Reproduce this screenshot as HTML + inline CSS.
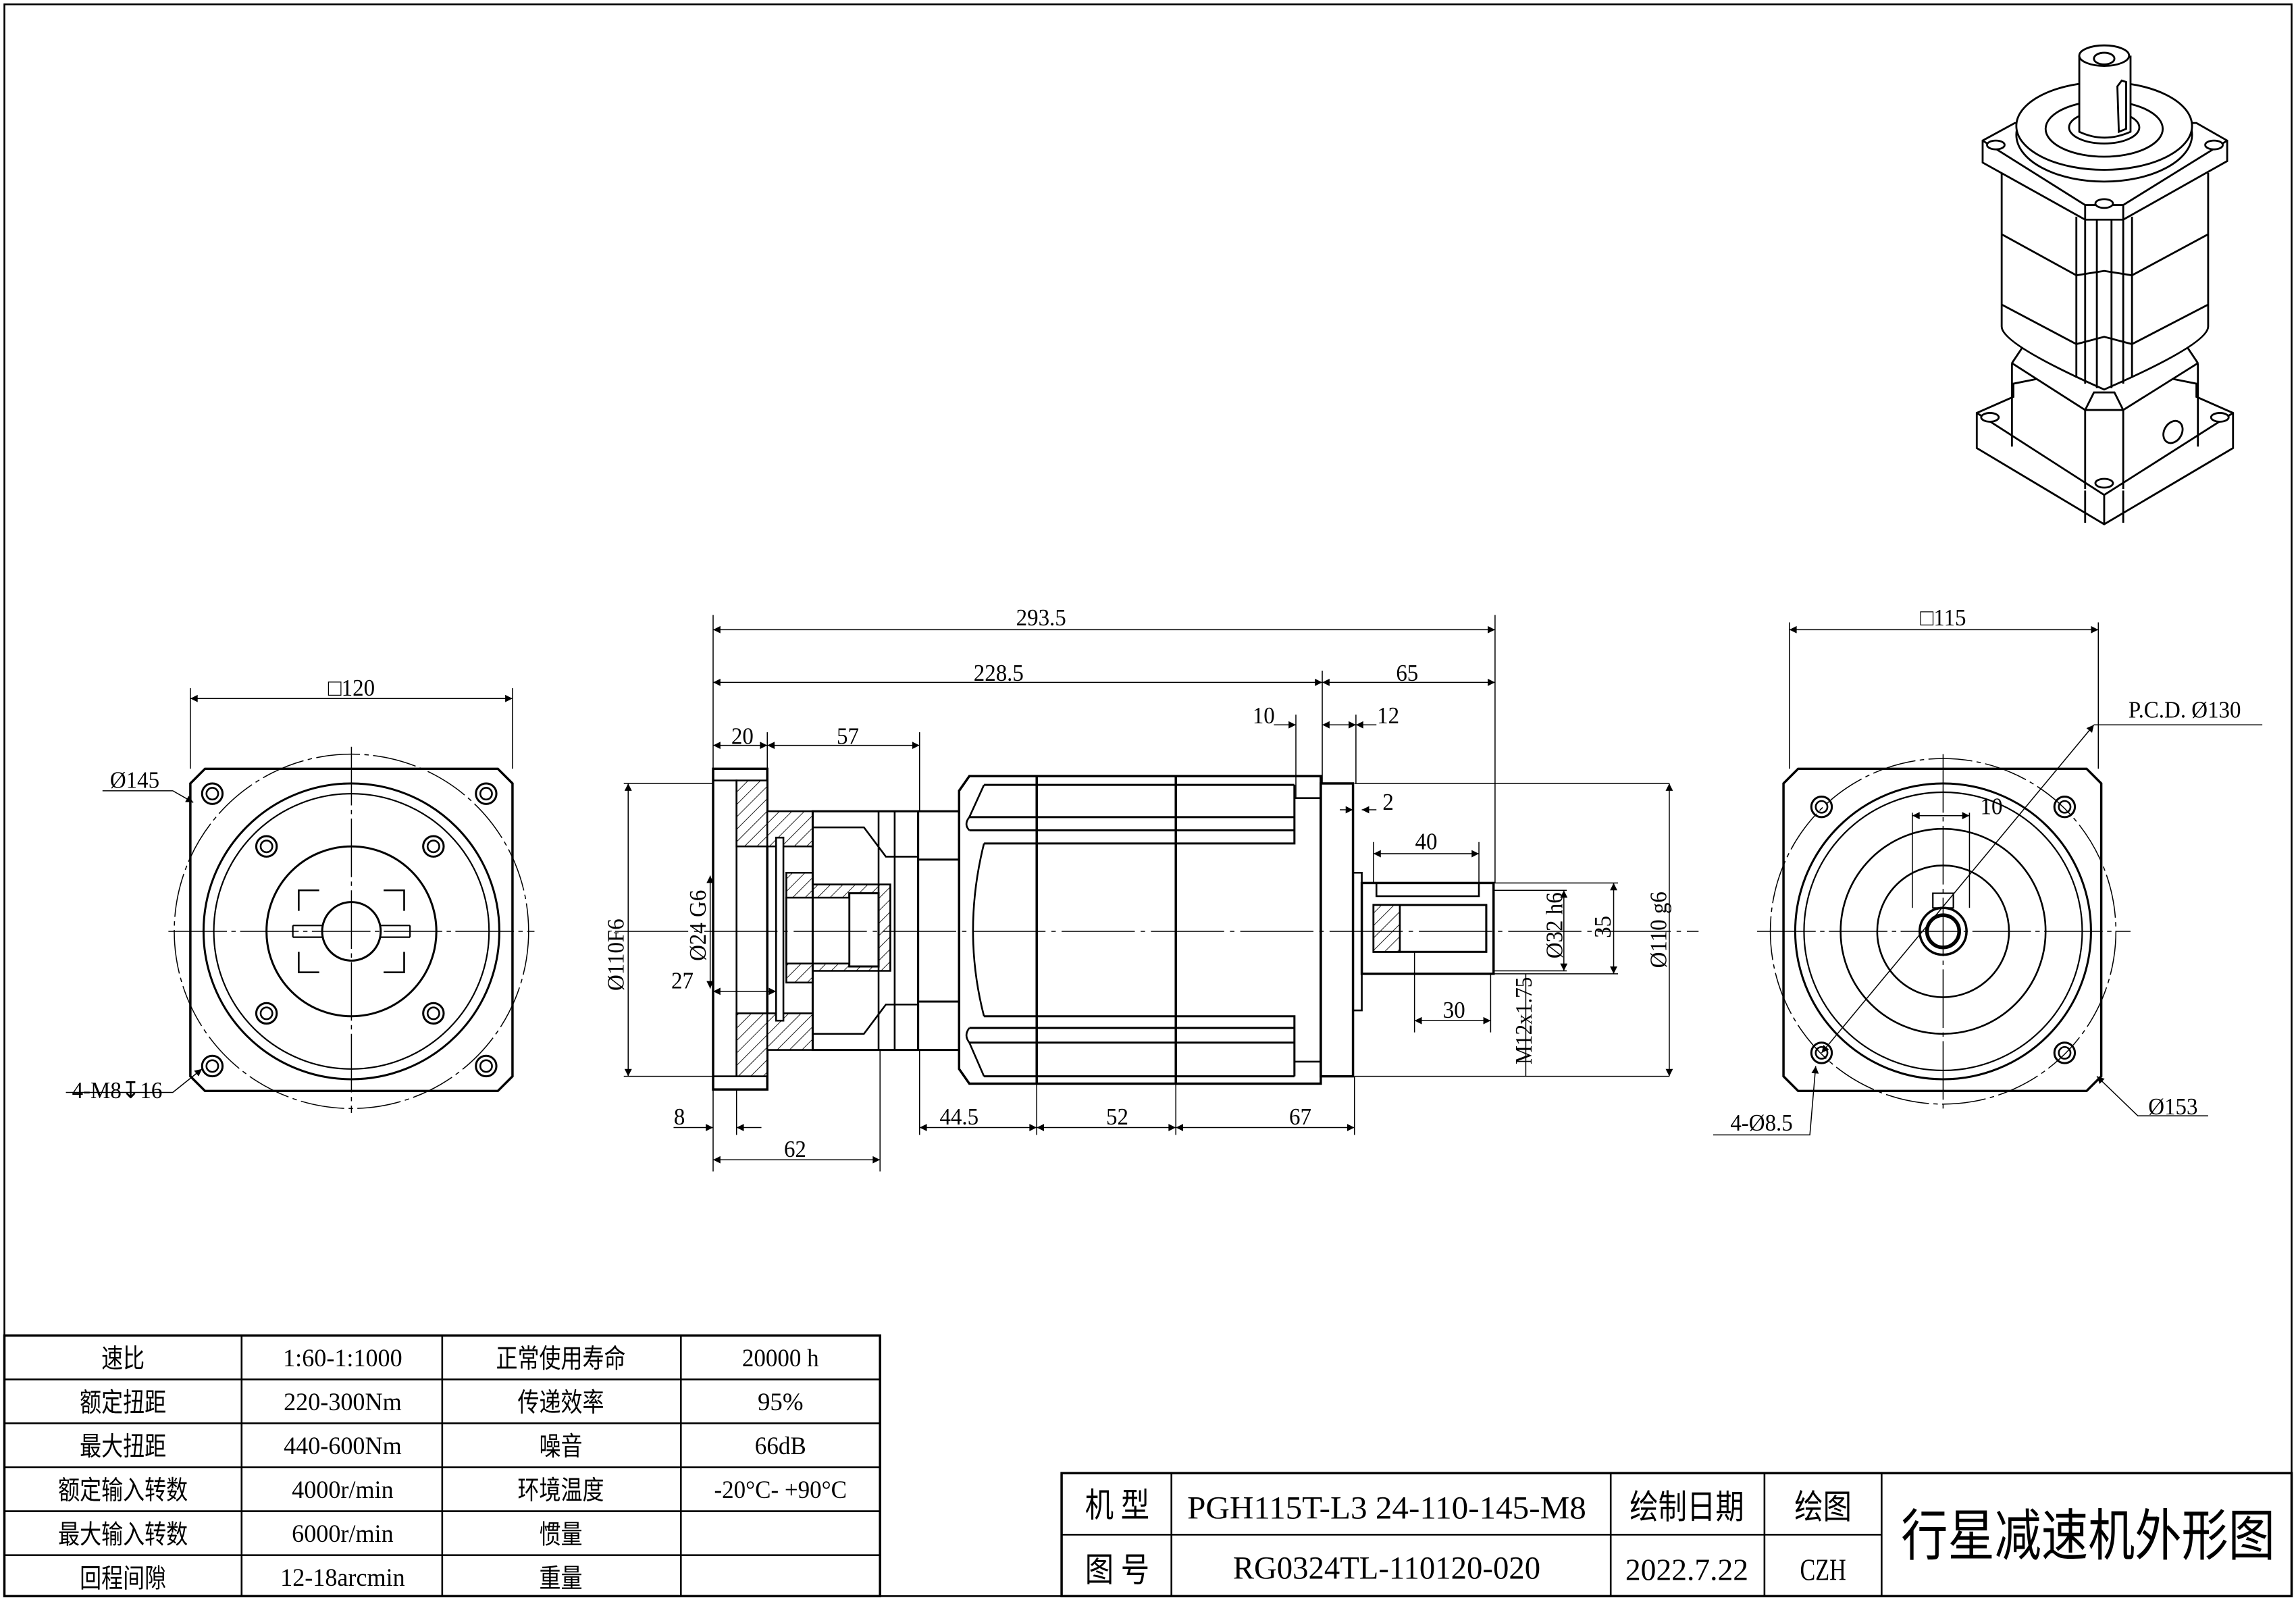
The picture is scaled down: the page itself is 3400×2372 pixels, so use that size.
<!DOCTYPE html>
<html><head><meta charset="utf-8">
<style>
html,body{margin:0;padding:0;background:#fff;}
svg{display:block;}
text{font-family:"Liberation Serif","Noto Sans CJK SC",serif;fill:#000;}
.c{font-family:"Liberation Sans","Noto Sans CJK SC",sans-serif;}
</style></head>
<body>
<svg width="3400" height="2372" viewBox="0 0 1568 1094" preserveAspectRatio="none" xmlns="http://www.w3.org/2000/svg">
<defs>
<pattern id="h" width="6" height="6" patternUnits="userSpaceOnUse" patternTransform="rotate(45)">
<rect width="6" height="6" fill="#fff"/><line x1="0" y1="0" x2="0" y2="6" stroke="#000" stroke-width="0.8"/></pattern>
<marker id="a" viewBox="0 0 10 10" refX="10" refY="5" markerWidth="8" markerHeight="5" orient="auto-start-reverse" markerUnits="userSpaceOnUse"><path d="M0,0 L10,5 L0,10z" fill="#000"/></marker>
</defs>
<g fill="none" stroke="#000" stroke-width="1.2">
<rect x="3" y="3" width="1562" height="1087"/>
<rect x="3" y="912" width="598" height="178" stroke-width="1.6"/>
<path d="M3 942H601M3 972H601M3 1002H601M3 1032H601M3 1062H601M165 912V1090M302 912V1090M465 912V1090"/>
<rect x="725" y="1006" width="840" height="84" stroke-width="1.6"/>
<path d="M725 1048H1285M800 1006V1090M1100 1006V1090M1205 1006V1090M1285 1006V1090"/>

<!-- LEFT VIEW -->
<path d="M140 525H340L350 535V735L340 745H140L130 735V535Z" stroke-width="1.6"/>
<circle cx="240" cy="636" r="121" stroke-width="0.7" stroke-dasharray="30 3 3 3"/>
<circle cx="240" cy="636" r="101" stroke-width="1.4"/>
<circle cx="240" cy="636" r="94" stroke-width="1"/>
<circle cx="240" cy="636" r="58" stroke-width="1.4"/>
<circle cx="240" cy="636" r="20" stroke-width="1.4"/>
<path d="M204 622V608H218M262 608H276V622M204 650V664H218M262 664H276V650" stroke-width="1.2"/>
<path d="M200 632H220M200 640H220M200 632V640M260 632H280M260 640H280M280 632V640" stroke-width="1"/>
<circle cx="145" cy="542" r="7" stroke-width="1.4"/><circle cx="145" cy="542" r="4"/>
<circle cx="332" cy="542" r="7" stroke-width="1.4"/><circle cx="332" cy="542" r="4"/>
<circle cx="145" cy="728" r="7" stroke-width="1.4"/><circle cx="145" cy="728" r="4"/>
<circle cx="332" cy="728" r="7" stroke-width="1.4"/><circle cx="332" cy="728" r="4"/>
<circle cx="182" cy="578" r="7" stroke-width="1.4"/><circle cx="182" cy="578" r="4"/>
<circle cx="296" cy="578" r="7" stroke-width="1.4"/><circle cx="296" cy="578" r="4"/>
<circle cx="182" cy="692" r="7" stroke-width="1.4"/><circle cx="182" cy="692" r="4"/>
<circle cx="296" cy="692" r="7" stroke-width="1.4"/><circle cx="296" cy="692" r="4"/>
<path d="M115 636H365M240 510V760" stroke-width="0.7" stroke-dasharray="40 3 3 3"/>
<path d="M130 525V470M350 525V470" stroke-width="0.7"/>
<path d="M130 477H350" stroke-width="0.7" marker-start="url(#a)" marker-end="url(#a)"/>
<path d="M70 540H118L132 548" stroke-width="0.7" marker-end="url(#a)"/>
<path d="M45 746H118L138 730" stroke-width="0.7" marker-end="url(#a)"/>

<!-- MIDDLE VIEW -->
<rect x="487" y="525" width="37" height="219" stroke-width="1.6"/>
<rect x="487" y="533" width="16" height="202" stroke-width="1.2"/>
<rect x="503" y="533" width="21" height="45" fill="url(#h)"/>
<rect x="503" y="692" width="21" height="43" fill="url(#h)"/>
<rect x="524" y="554" width="31" height="24" fill="url(#h)"/>
<rect x="524" y="692" width="31" height="25" fill="url(#h)"/>
<path d="M537 596H555V604H608V663H555V671H537Z" fill="url(#h)"/>
<rect x="580" y="610" width="20" height="50" fill="#fff" stroke-width="1.4"/>
<rect x="537" y="613" width="43" height="45" fill="#fff"/>
<rect x="530" y="572" width="5" height="125" fill="#fff"/>
<path d="M555 554H627V717H555Z" stroke-width="1.4"/>
<path d="M555 565H590L605 585H627M555 706H590L605 686H627M600 554V717M611 554V717" stroke-width="1.2"/>
<path d="M627 554V717M655 554V717M627 587H655M627 684H655" stroke-width="1.4"/>
<path d="M627 554H655M627 717H655" stroke-width="1.4"/>
<path d="M662 530H902V740H662L655 730V540Z" stroke-width="1.6"/>
<path d="M708 530V740M803 530V740" stroke-width="1.6"/>
<path d="M672 536H884M662 558H884M662 567H884M672 576H884V536M672 694H884V735M662 702H884M662 712H884M672 735H884" stroke-width="1.4"/>
<path d="M672 536L662 558Q658 563 662 567M672 576Q657 636 672 694M662 702Q658 707 662 712L672 735" stroke-width="1.2"/>
<path d="M884 545H902M884 725H902" stroke-width="1.2"/>
<rect x="902" y="535" width="22" height="200" stroke-width="1.6"/>
<path d="M924 596H930V690H924" stroke-width="1.2"/>
<rect x="930" y="603" width="90" height="62" stroke-width="1.6"/>
<path d="M940 603V612H1010V603" stroke-width="1.2"/>
<rect x="938" y="618" width="77" height="32" stroke-width="1.4"/>
<path d="M938 618H956V650H938Z" fill="url(#h)"/>
<path d="M1015 618V650" stroke-width="1.2"/>
<path d="M420 636H1160" stroke-width="0.7" stroke-dasharray="50 4 3 4"/>
<path d="M487 525V420M1021 603V420M903 535V458M885 545V488M926 535V488M524 525V500M628 554V500M628 717V775M708 740V775M803 740V775M925 735V775M601 717V800M487 744V800M503 744V775M426 535H487M426 735H487M1140 535H925M1140 735H925M1105 603H1020M1105 665H1020M1070 608H1020M1070 663H1020M938 603V575M1010 603V575M966 650V705M1018 665V705M1042 665V735" stroke-width="0.7"/>
<g stroke-width="0.7" marker-start="url(#a)" marker-end="url(#a)">
<path d="M487 430H1021"/><path d="M487 466H903"/><path d="M903 466H1021"/>
<path d="M487 509H524"/><path d="M524 509H628"/>
<path d="M938 583H1010"/><path d="M966 697H1018"/>
<path d="M429 535V735"/><path d="M1140 535V735"/><path d="M1102 603V665"/><path d="M1068 608V663"/>
<path d="M628 770H708"/><path d="M708 770H803"/><path d="M803 770H925"/>
<path d="M487 792H601"/><path d="M487 677H530"/><path d="M485 598V675"/>
</g>
<g stroke-width="0.7" marker-end="url(#a)">
<path d="M870 495H885"/><path d="M920 495H903"/><path d="M910 495H926"/><path d="M940 495H926"/>
<path d="M915 553H924"/><path d="M940 553H930"/>
<path d="M460 770H487"/><path d="M520 770H503"/>
</g>

<!-- RIGHT VIEW -->
<path d="M1228 525H1425L1435 535V735L1425 745H1228L1218 735V535Z" stroke-width="1.6"/>
<circle cx="1327" cy="636" r="118" stroke-width="0.7" stroke-dasharray="30 3 3 3"/>
<circle cx="1327" cy="636" r="101" stroke-width="1.4"/>
<circle cx="1327" cy="636" r="95" stroke-width="1"/>
<circle cx="1327" cy="636" r="70" stroke-width="1.2"/>
<circle cx="1327" cy="636" r="45" stroke-width="1.2"/>
<circle cx="1327" cy="636" r="16" stroke-width="1.6"/>
<circle cx="1327" cy="636" r="11" stroke-width="2.5"/>
<path d="M1320 610H1334V620H1320Z" stroke-width="1"/>
<circle cx="1244" cy="551" r="7" stroke-width="1.4"/><circle cx="1244" cy="551" r="4"/>
<circle cx="1410" cy="551" r="7" stroke-width="1.4"/><circle cx="1410" cy="551" r="4"/>
<circle cx="1244" cy="719" r="7" stroke-width="1.4"/><circle cx="1244" cy="719" r="4"/>
<circle cx="1410" cy="719" r="7" stroke-width="1.4"/><circle cx="1410" cy="719" r="4"/>
<path d="M1200 636H1455M1327 515V760" stroke-width="0.7" stroke-dasharray="40 3 3 3"/>
<path d="M1222 525V425M1433 525V425M1306 555V620M1345 555V620" stroke-width="0.7"/>
<path d="M1222 430H1433" stroke-width="0.7" marker-start="url(#a)" marker-end="url(#a)"/>
<path d="M1306 557H1345" stroke-width="0.7" marker-start="url(#a)" marker-end="url(#a)"/>
<path d="M1244 719L1430 495" stroke-width="0.7" marker-start="url(#a)" marker-end="url(#a)"/>
<path d="M1430 495H1545" stroke-width="0.7"/>
<path d="M1508 762H1460L1432 735" stroke-width="0.7" marker-end="url(#a)"/>
<path d="M1170 775H1236L1240 728" stroke-width="0.7" marker-end="url(#a)"/>

<!-- 3D VIEW -->
<g stroke-width="1.3" fill="#fff">
<path d="M1350 282L1375 271V262L1395 258H1480L1500 262V271L1525 282V306L1437 358L1350 306Z"/>
<path d="M1350 282L1437 338L1525 282M1437 338V358M1424 335V357M1450 335V357"/>
<path d="M1374 248V305M1501 248V305M1374 248L1382 236M1501 248L1493 236M1374 248L1424 280H1450L1501 248M1424 280V334M1450 280V334M1424 280L1430 268H1444L1450 280"/>
<path d="M1367 118V223Q1367 235 1437 266Q1508 235 1508 223V118"/>
<path d="M1367 160L1418 188L1437 185L1456 188L1508 160M1367 208L1418 235L1437 230L1456 235L1508 208"/>
<path d="M1418 148V258M1456 148V258M1424 150V262M1450 150V262M1432 150V265M1442 150V265"/>
<path d="M1354 96L1376 84H1500L1521 96V110L1450 150H1424L1354 111Z"/>
<path d="M1354 96L1424 140H1450L1521 96M1424 140V150M1450 140V150"/>
<ellipse cx="1437" cy="92" rx="60" ry="32"/>
<ellipse cx="1437" cy="86" rx="60" ry="30"/>
<ellipse cx="1437" cy="88" rx="40" ry="19"/>
<ellipse cx="1437" cy="87" rx="24" ry="11"/>
<path d="M1420 38V90Q1437 98 1455 90V38"/>
<ellipse cx="1437" cy="38" rx="17" ry="7"/>
<ellipse cx="1437" cy="40" rx="7" ry="4"/>
<path d="M1446 59L1449 55L1452 56V88L1447 90Z"/>
<ellipse cx="1363" cy="99" rx="6" ry="3"/><ellipse cx="1512" cy="99" rx="6" ry="3"/><ellipse cx="1437" cy="139" rx="6" ry="3"/>
<ellipse cx="1359" cy="285" rx="6" ry="3"/><ellipse cx="1516" cy="285" rx="6" ry="3"/><ellipse cx="1437" cy="330" rx="6" ry="3"/>
<ellipse cx="1484" cy="295" rx="6" ry="8" transform="rotate(30 1484 295)"/>
</g>
</g>

<!-- TEXT -->
<g font-size="16" text-anchor="middle">
<text transform="translate(240,475) scale(0.95,1)">□120</text>
<text transform="translate(92,538) scale(0.95,1)">Ø145</text>
<text transform="translate(80,750) scale(0.95,1)">4-M8↧16</text>
<text transform="translate(711,427) scale(0.95,1)">293.5</text>
<text transform="translate(682,465) scale(0.95,1)">228.5</text>
<text transform="translate(961,465) scale(0.95,1)">65</text>
<text transform="translate(863,494) scale(0.95,1)">10</text>
<text transform="translate(948,494) scale(0.95,1)">12</text>
<text transform="translate(507,508) scale(0.95,1)">20</text>
<text transform="translate(579,508) scale(0.95,1)">57</text>
<text transform="translate(948,553) scale(0.95,1)">2</text>
<text transform="translate(974,580) scale(0.95,1)">40</text>
<text transform="translate(993,695) scale(0.95,1)">30</text>
<text transform="translate(466,675) scale(0.95,1)">27</text>
<text transform="translate(464,768) scale(0.95,1)">8</text>
<text transform="translate(543,790) scale(0.95,1)">62</text>
<text transform="translate(655,768) scale(0.95,1)">44.5</text>
<text transform="translate(763,768) scale(0.95,1)">52</text>
<text transform="translate(888,768) scale(0.95,1)">67</text>
<text transform="translate(426,652) rotate(-90) scale(0.95,1)">Ø110F6</text>
<text transform="translate(482,632) rotate(-90) scale(0.95,1)">Ø24 G6</text>
<text transform="translate(1067,632) rotate(-90) scale(0.95,1)">Ø32 h6</text>
<text transform="translate(1100,633) rotate(-90) scale(0.95,1)">35</text>
<text transform="translate(1138,635) rotate(-90) scale(0.95,1)">Ø110 g6</text>
<text transform="translate(1046,697) rotate(-90) scale(0.9,1)">M12x1.75</text>
<text transform="translate(1327,427) scale(0.95,1)">□115</text>
<text transform="translate(1492,490) scale(0.95,1)">P.C.D. Ø130</text>
<text transform="translate(1360,556) scale(0.95,1)">10</text>
<text transform="translate(1484,761) scale(0.95,1)">Ø153</text>
<text transform="translate(1203,772) scale(0.95,1)">4-Ø8.5</text>
</g>
<g font-size="18" text-anchor="middle" class="c">
<text transform="translate(84,934) scale(0.82,1)">速比</text>
<text transform="translate(84,964) scale(0.82,1)">额定扭距</text>
<text transform="translate(84,994) scale(0.82,1)">最大扭距</text>
<text transform="translate(84,1024) scale(0.82,1)">额定输入转数</text>
<text transform="translate(84,1054) scale(0.82,1)">最大输入转数</text>
<text transform="translate(84,1084) scale(0.82,1)">回程间隙</text>
<text transform="translate(383,934) scale(0.82,1)">正常使用寿命</text>
<text transform="translate(383,964) scale(0.82,1)">传递效率</text>
<text transform="translate(383,994) scale(0.82,1)">噪音</text>
<text transform="translate(383,1024) scale(0.82,1)">环境温度</text>
<text transform="translate(383,1054) scale(0.82,1)">惯量</text>
<text transform="translate(383,1084) scale(0.82,1)">重量</text>
</g>
<g font-size="17" text-anchor="middle" class="c">
<text transform="translate(234,933) scale(0.98,1)">1:60-1:1000</text>
<text transform="translate(234,963) scale(0.98,1)">220-300Nm</text>
<text transform="translate(234,993) scale(0.98,1)">440-600Nm</text>
<text transform="translate(234,1023) scale(0.98,1)">4000r/min</text>
<text transform="translate(234,1053) scale(0.98,1)">6000r/min</text>
<text transform="translate(234,1083) scale(0.98,1)">12-18arcmin</text>
<text transform="translate(533,933) scale(0.95,1)">20000 h</text>
<text transform="translate(533,963) scale(1,1)">95%</text>
<text transform="translate(533,993) scale(0.95,1)">66dB</text>
<text transform="translate(533,1023) scale(0.95,1)">-20°C- +90°C</text>
</g>
<g text-anchor="middle" class="c">
<text font-size="23" transform="translate(763,1036) scale(0.85,1)">机  型</text>
<text font-size="23" transform="translate(763,1080) scale(0.85,1)">图  号</text>
<text font-size="22" transform="translate(947,1037) scale(1.03,1)">PGH115T-L3 24-110-145-M8</text>
<text font-size="22" transform="translate(947,1078) scale(0.98,1)">RG0324TL-110120-020</text>
<text font-size="23" transform="translate(1152,1037) scale(0.85,1)">绘制日期</text>
<text font-size="21" transform="translate(1152,1079) scale(1.0,1)">2022.7.22</text>
<text font-size="23" transform="translate(1245,1037) scale(0.85,1)">绘图</text>
<text font-size="21" transform="translate(1245,1079) scale(0.75,1)">CZH</text>
<text font-size="38" transform="translate(1426,1062) scale(0.84,1)">行星减速机外形图</text>
</g>
</svg>
</body></html>
